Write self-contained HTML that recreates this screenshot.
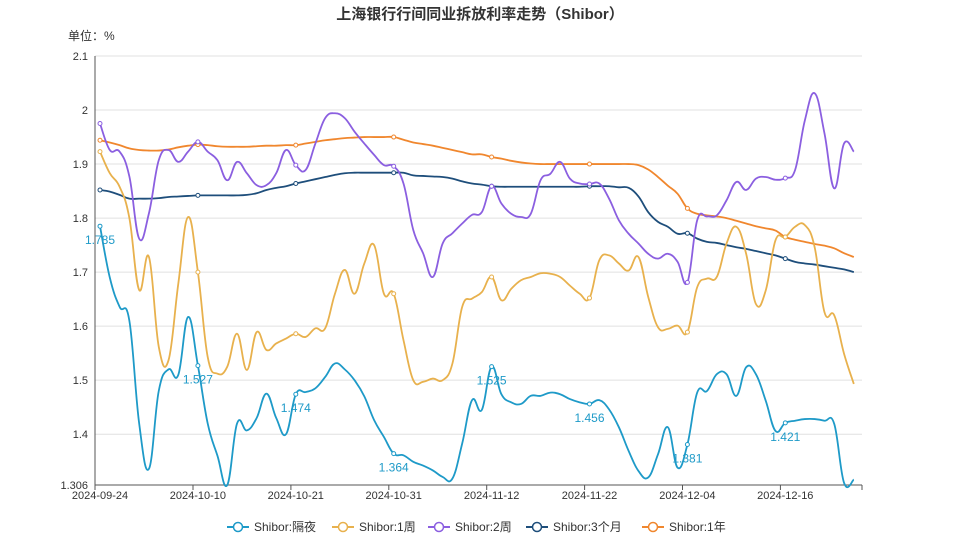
<!DOCTYPE html>
<html><head><meta charset="utf-8">
<style>
body{margin:0;background:#fff;font-family:"Liberation Sans","Noto Sans CJK SC",sans-serif;}
svg text{font-family:"Liberation Sans","Noto Sans CJK SC",sans-serif;}
</style></head>
<body>
<svg id="chart" width="959" height="540" xmlns="http://www.w3.org/2000/svg">
<text x="480" y="19" text-anchor="middle" font-size="15" font-weight="bold" fill="#333">上海银行行间同业拆放利率走势（Shibor）</text>
<text x="68" y="40" font-size="12" fill="#333">单位：%</text>
<g id="grid"></g>
<g id="series"></g>
<g id="legend"></g>
</svg>
<script>
const categories = ["2024-09-24","","","","","","","","","","2024-10-10","","","","","","","","","","2024-10-21","","","","","","","","","","2024-10-31","","","","","","","","","","2024-11-12","","","","","","","","","","2024-11-22","","","","","","","","","","2024-12-04","","","","","","","","","","2024-12-16","","","","","","",""];
const yTicks = [1.4,1.5,1.6,1.7,1.8,1.9,2.0,2.1];
const yTickLabels = ["1.4","1.5","1.6","1.7","1.8","1.9","2","2.1"];
const yMin = 1.306, yMax = 2.1;
const seriesNames = ["Shibor:隔夜","Shibor:1周","Shibor:2周","Shibor:3个月","Shibor:1年"];
const overnight = [1.785,1.69,1.636,1.61,1.42,1.336,1.48,1.52,1.51,1.617,1.527,1.42,1.36,1.306,1.42,1.407,1.43,1.475,1.43,1.40,1.474,1.478,1.485,1.506,1.531,1.52,1.50,1.47,1.426,1.395,1.364,1.361,1.349,1.342,1.333,1.321,1.318,1.383,1.463,1.445,1.525,1.474,1.459,1.456,1.471,1.471,1.477,1.474,1.465,1.459,1.456,1.463,1.446,1.413,1.369,1.332,1.32,1.363,1.413,1.338,1.381,1.477,1.48,1.511,1.511,1.471,1.524,1.511,1.462,1.406,1.421,1.425,1.428,1.428,1.425,1.419,1.31,1.316];
const week1 = [1.923,1.883,1.858,1.80,1.667,1.728,1.562,1.537,1.679,1.802,1.70,1.543,1.512,1.525,1.586,1.519,1.589,1.556,1.568,1.577,1.586,1.58,1.596,1.596,1.66,1.704,1.66,1.716,1.75,1.66,1.66,1.574,1.50,1.497,1.503,1.50,1.531,1.636,1.651,1.663,1.691,1.648,1.669,1.685,1.691,1.698,1.697,1.691,1.675,1.66,1.652,1.722,1.731,1.716,1.703,1.728,1.654,1.598,1.595,1.601,1.589,1.672,1.688,1.691,1.753,1.784,1.734,1.641,1.666,1.759,1.765,1.784,1.787,1.746,1.626,1.62,1.549,1.493];
const week2 = [1.975,1.926,1.923,1.877,1.762,1.809,1.907,1.926,1.904,1.923,1.941,1.923,1.907,1.87,1.904,1.883,1.861,1.861,1.883,1.926,1.898,1.889,1.938,1.985,1.994,1.985,1.96,1.938,1.917,1.898,1.896,1.864,1.778,1.735,1.691,1.753,1.772,1.79,1.806,1.811,1.859,1.827,1.808,1.802,1.808,1.87,1.882,1.904,1.873,1.864,1.863,1.864,1.836,1.796,1.771,1.753,1.734,1.725,1.734,1.719,1.681,1.796,1.803,1.805,1.833,1.867,1.852,1.873,1.876,1.871,1.874,1.889,1.981,2.031,1.957,1.855,1.938,1.923];
const month3 = [1.852,1.849,1.843,1.836,1.836,1.836,1.837,1.839,1.840,1.841,1.842,1.842,1.842,1.842,1.842,1.843,1.846,1.852,1.856,1.859,1.864,1.868,1.872,1.876,1.880,1.883,1.884,1.884,1.884,1.884,1.884,1.884,1.879,1.878,1.877,1.876,1.873,1.868,1.864,1.862,1.859,1.858,1.858,1.858,1.858,1.858,1.858,1.858,1.858,1.858,1.859,1.859,1.859,1.857,1.856,1.84,1.811,1.793,1.784,1.771,1.772,1.762,1.756,1.754,1.75,1.746,1.743,1.739,1.735,1.731,1.725,1.719,1.716,1.714,1.711,1.708,1.705,1.70];
const year1 = [1.944,1.940,1.935,1.929,1.926,1.925,1.925,1.927,1.931,1.934,1.936,1.935,1.933,1.932,1.932,1.932,1.933,1.934,1.934,1.935,1.935,1.938,1.941,1.944,1.946,1.948,1.949,1.950,1.950,1.950,1.950,1.945,1.940,1.937,1.934,1.930,1.926,1.922,1.918,1.918,1.913,1.910,1.906,1.903,1.901,1.900,1.900,1.900,1.900,1.900,1.900,1.900,1.900,1.900,1.900,1.898,1.890,1.876,1.860,1.845,1.818,1.808,1.805,1.803,1.800,1.795,1.790,1.785,1.781,1.777,1.765,1.760,1.756,1.752,1.749,1.744,1.735,1.728];
const allSeries = [overnight, week1, week2, month3, year1];
const colors = ["#1e9ac8","#e8b14d","#8b5fe0","#1e4e7b","#f0872e"];

const NS="http://www.w3.org/2000/svg";
const X0=100, STEP=9.79, AX0=95, AX1=862, YTOP=56, YBOT=485;
function xPos(i){return X0+i*STEP;}
function yPos(v){return YBOT-(v-yMin)/(yMax-yMin)*(YBOT-YTOP);}
function mk(tag,attrs,parent){const e=document.createElementNS(NS,tag);for(const k in attrs)e.setAttribute(k,attrs[k]);parent.appendChild(e);return e;}
const grid=document.getElementById('grid');
yTicks.forEach((t,k)=>{
  const y=yPos(t);
  const l=mk('line',{x1:AX0,x2:AX1,y1:y,y2:y,stroke:'#e0e0e0','stroke-width':1},grid);
  
  
  const tx=mk('text',{x:88,y:y+4,'text-anchor':'end','font-size':11,fill:'#333'},grid);
  tx.textContent=yTickLabels[k];
  
  
});
const minLbl=mk('text',{x:88,y:YBOT+4,'text-anchor':'end','font-size':11,fill:'#333'},grid);
minLbl.textContent=String(yMin);


const ya=mk('line',{x1:AX0,x2:AX0,y1:YTOP,y2:YBOT,stroke:'#555','stroke-width':1},grid);


const xa=mk('line',{x1:AX0,x2:AX1,y1:YBOT,y2:YBOT,stroke:'#555','stroke-width':1},grid);


categories.forEach((c,i)=>{
  if(i%10===0){
    const tx_=i===0?AX0:xPos(i-0.5);
    const t=mk('line',{x1:tx_,x2:tx_,y1:YBOT,y2:YBOT+5,stroke:'#555'},grid);
    
    
  }
  if(c){
    const tx=mk('text',{x:xPos(i),y:YBOT+14,'text-anchor':'middle','font-size':11,fill:'#333'},grid);
    tx.textContent=c;
    
    
  }
});
const endTick=mk('line',{x1:AX1,x2:AX1,y1:YBOT,y2:YBOT+5,stroke:'#555'},grid);



function smoothPath(pts){
  let d=`M${pts[0][0]},${pts[0][1]}`;
  for(let i=0;i<pts.length-1;i++){
    const p0=pts[Math.max(0,i-1)],p1=pts[i],p2=pts[i+1],p3=pts[Math.min(pts.length-1,i+2)];
    const s=0.2;
    const c1=[p1[0]+(p2[0]-p0[0])*s,p1[1]+(p2[1]-p0[1])*s];
    const c2=[p2[0]-(p3[0]-p1[0])*s,p2[1]-(p3[1]-p1[1])*s];
    d+=` C${c1[0]},${c1[1]} ${c2[0]},${c2[1]} ${p2[0]},${p2[1]}`;
  }
  return d;
}
const sg=document.getElementById('series');
const order=[4,3,2,1,0];
order.forEach(si=>{
  const data=allSeries[si];
  const g=mk('g',{},sg);
  
  
  const pts=data.map((v,i)=>[xPos(i),yPos(v)]);
  const p=mk('path',{d:smoothPath(pts),fill:'none',stroke:colors[si],'stroke-width':1.8},g);
  
  
  data.forEach((v,i)=>{
    if(i%10===0){
      const c=mk('circle',{cx:xPos(i),cy:yPos(v),r:2,fill:'#fff',stroke:colors[si],'stroke-width':1},g);
      
      
      if(si===0){
        const t=mk('text',{x:xPos(i),y:yPos(v)+18,'text-anchor':'middle','font-size':12,fill:colors[0]},g);
        t.textContent=v.toFixed(3);
        
        
      }
    }
  });
});
const lg=document.getElementById('legend');
const lx=[227,332,428,526,642];
seriesNames.forEach((n,i)=>{
  const g=mk('g',{},lg);
  
  
  const x=lx[i];
  mk('line',{x1:x,x2:x+22,y1:527,y2:527,stroke:colors[i],'stroke-width':2},g);
  mk('circle',{cx:x+11,cy:527,r:4.5,fill:'#fff',stroke:colors[i],'stroke-width':1.5},g);
  const t=mk('text',{x:x+27,y:531,'font-size':12,fill:'#333'},g);
  t.textContent=n;
});
</script>
</body></html>
